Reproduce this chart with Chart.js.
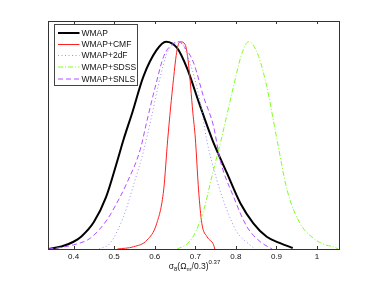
<!DOCTYPE html>
<html><head><meta charset="utf-8">
<script src="https://cdn.jsdelivr.net/npm/chart.js@4"></script>
<style>html,body{margin:0;padding:0;background:#fff}#c{display:block}</style>
</head><body>
<div style="width:374px;height:281px"><canvas id="c" width="374" height="281"></canvas></div>
<script>
const seriesNames = ['WMAP','WMAP+CMF','WMAP+2dF','WMAP+SDSS','WMAP+SNLS'];
const tickValues = [0.4,0.5,0.6,0.7,0.8,0.9,1.0];
const tickLabels = ['0.4','0.5','0.6','0.7','0.8','0.9','1'];

const wmapX = [0.338,0.37,0.40,0.42,0.45,0.48,0.507,0.523,0.545,0.572,0.604,0.628,0.655,0.68,0.71,0.742,0.778,0.811,0.843,0.876,0.909,0.94];
const wmapY = [0,0.012,0.035,0.062,0.13,0.25,0.42,0.527,0.66,0.832,0.958,1.0,0.97,0.87,0.70,0.527,0.366,0.221,0.124,0.059,0.028,0.005];

const cmfX = [0.508,0.548,0.581,0.605,0.622,0.632,0.646,0.655,0.663,0.675,0.683,0.694,0.700,0.708,0.716,0.729,0.745,0.748];
const cmfY = [0,0.011,0.043,0.124,0.285,0.53,0.816,0.961,1.0,0.986,0.897,0.656,0.535,0.285,0.124,0.059,0.02,0];

const dfX = [0.463,0.49,0.523,0.548,0.572,0.59,0.614,0.63,0.646,0.662,0.687,0.712,0.728,0.753,0.778,0.802,0.835,0.848];
const dfY = [0,0.028,0.156,0.31,0.47,0.62,0.832,0.945,0.986,1.0,0.897,0.71,0.527,0.333,0.188,0.084,0.019,0];

const sdssX = [0.655,0.68,0.70,0.721,0.742,0.764,0.794,0.815,0.831,0.842,0.856,0.876,0.901,0.926,0.958,0.991,1.02,1.04,1.052];
const sdssY = [0,0.025,0.08,0.19,0.36,0.53,0.784,0.945,1.0,0.985,0.929,0.784,0.53,0.285,0.124,0.052,0.02,0.011,0];

const snlsX = [0.338,0.37,0.40,0.441,0.482,0.515,0.531,0.564,0.581,0.601,0.622,0.642,0.659,0.675,0.696,0.72,0.745,0.761,0.794,0.827,0.86,0.889];
const snlsY = [0,0.008,0.02,0.052,0.14,0.253,0.317,0.478,0.62,0.78,0.929,0.986,1.0,0.97,0.897,0.736,0.591,0.43,0.253,0.108,0.035,0];

const pts = (xs, ys) => xs.map((x, i) => ({x, y: ys[i]}));
const FONT = "'Liberation Sans', Arial, Helvetica, sans-serif";

const styles = [
  {color:'#000000', width:2, dash:[]},
  {color:'#ff2020', width:1, dash:[]},
  {color:'#9090ff', width:1, dash:[1,2.5]},
  {color:'#80ff20', width:1, dash:[5,2,1,2]},
  {color:'#b050ff', width:1, dash:[5,3]}
];
const allData = [pts(wmapX,wmapY), pts(cmfX,cmfY), pts(dfX,dfY), pts(sdssX,sdssY), pts(snlsX,snlsY)];

const datasets = allData.map((d, i) => ({
  label: seriesNames[i],
  data: d,
  showLine: true,
  borderColor: styles[i].color,
  backgroundColor: styles[i].color,
  borderWidth: styles[i].width,
  borderDash: styles[i].dash,
  pointRadius: 0,
  fill: false,
  cubicInterpolationMode: 'monotone',
  order: 5 - i
}));

const decor = {
  id: 'decor',
  afterDraw(chart) {
    const ctx = chart.ctx, a = chart.chartArea, xs = chart.scales.x;
    ctx.save();
    ctx.strokeStyle = '#333';
    ctx.lineWidth = 1;
    ctx.strokeRect(Math.round(a.left)+0.5, Math.round(a.top)+0.5, Math.round(a.right-a.left), Math.round(a.bottom-a.top));
    ctx.beginPath();
    tickValues.forEach(v => {
      const px = Math.round(xs.getPixelForValue(v)) + 0.5;
      ctx.moveTo(px, a.bottom); ctx.lineTo(px, a.bottom - 3);
      ctx.moveTo(px, a.top); ctx.lineTo(px, a.top + 3);
    });
    ctx.stroke();
    const lx = 54.5, ly = 24.5, lw = 83, lh = 61;
    ctx.fillStyle = '#fff';
    ctx.fillRect(lx, ly, lw, lh);
    ctx.strokeStyle = '#444';
    ctx.strokeRect(lx, ly, lw, lh);
    const rowY = [33, 44.5, 55.5, 67, 79];
    ctx.font = '8.5px ' + FONT;
    ctx.textBaseline = 'middle';
    ctx.textAlign = 'left';
    seriesNames.forEach((n, i) => {
      ctx.save();
      ctx.strokeStyle = styles[i].color;
      ctx.lineWidth = styles[i].width;
      ctx.setLineDash(styles[i].dash);
      ctx.beginPath();
      ctx.moveTo(58, rowY[i]); ctx.lineTo(79.5, rowY[i]);
      ctx.stroke();
      ctx.restore();
      ctx.fillStyle = '#111';
      ctx.fillText(n, 81.5, rowY[i] + 0.5);
    });
    const parts = [
      {t:'σ', s:8.5, dy:0},
      {t:'8', s:6, dy:2.5},
      {t:'(Ω', s:8.5, dy:0},
      {t:'m', s:6, dy:2.5},
      {t:'/0.3)', s:8.5, dy:0},
      {t:'0.37', s:6, dy:-5}
    ];
    let total = 0;
    parts.forEach(p => { ctx.font = p.s + 'px ' + FONT; p.w = ctx.measureText(p.t).width; total += p.w; });
    let x = (a.left + a.right) / 2 - total / 2 + 1;
    const base = 268.5;
    ctx.textBaseline = 'alphabetic';
    ctx.fillStyle = '#111';
    parts.forEach(p => { ctx.font = p.s + 'px ' + FONT; ctx.fillText(p.t, x, base + p.dy); x += p.w; });
    ctx.restore();
  }
};

new Chart(document.getElementById('c'), {
  type: 'scatter',
  data: { datasets },
  options: {
    responsive: false,
    animation: false,
    layout: { padding: { left: 48, right: 35, top: 21, bottom: 0 } },
    plugins: { legend: { display: false }, tooltip: { enabled: false } },
    scales: {
      x: {
        type: 'linear', min: 0.337, max: 1.054,
        grid: { display: false },
        border: { display: false },
        afterBuildTicks: s => { s.ticks = tickValues.map(v => ({value: v})); },
        afterFit: s => { s.height = 32; },
        ticks: {
          padding: -5,
          color: '#111',
          font: { size: 8, family: FONT },
          callback: (v) => { const i = tickValues.findIndex(t => Math.abs(t - v) < 1e-6); return i >= 0 ? tickLabels[i] : ''; },
          maxRotation: 0, autoSkip: false
        }
      },
      y: { type: 'linear', min: 0, max: 1.1, display: false }
    }
  },
  plugins: [decor]
});
</script>
</body></html>
